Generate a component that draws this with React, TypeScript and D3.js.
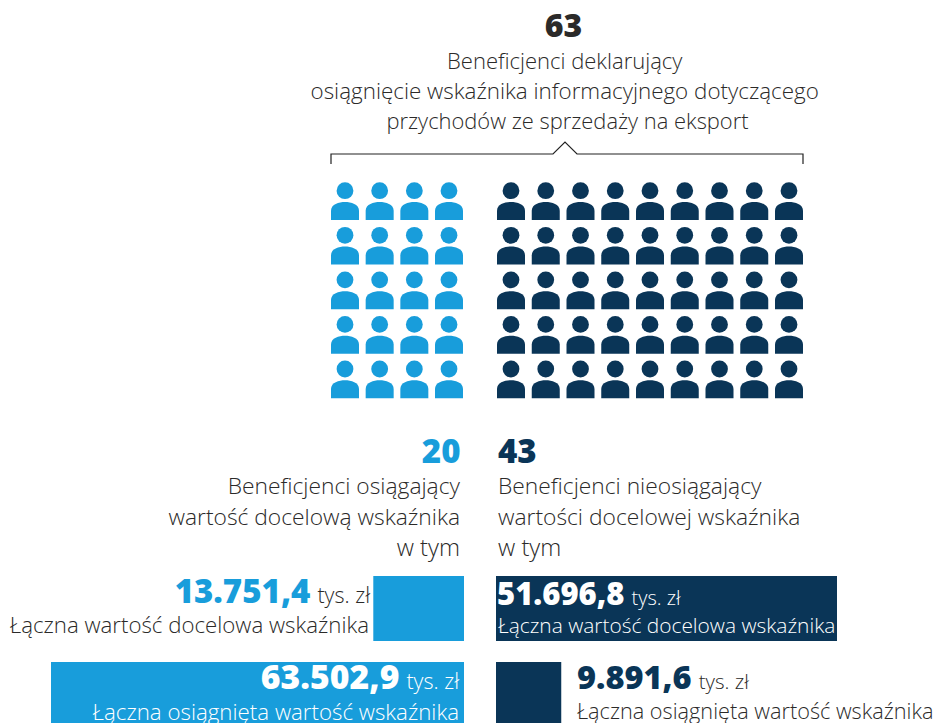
import React from 'react';
import * as d3 from 'd3';

const BLUE = '#189ddb';
const NAVY = '#0a3557';
const INK = '#2b2a29';
const FONT = '"Open Sans", "Noto Sans", sans-serif';

const total = '63';
const titleLines = [
  'Beneficjenci deklarujący',
  'osiągnięcie wskaźnika informacyjnego dotyczącego',
  'przychodów ze sprzedaży na eksport',
];
const titleSizes = [22, 22.4, 21.9];

// icon grids: drawn as in the source picture (4x5 and 9x5)
const iconRows = 5;
const leftCols = 4;
const rightCols = 9;

const leftCount = '20';
const leftLines = ['Beneficjenci osiągający', 'wartość docelową wskaźnika', 'w tym'];
const rightCount = '43';
const rightLines = ['Beneficjenci nieosiągający', 'wartości docelowej wskaźnika', 'w tym'];
const groupSizes = [22.8, 22.8, 23.8];

const targetLabel = 'Łączna wartość docelowa wskaźnika';
const actualLabel = 'Łączna osiągnięta wartość wskaźnika';
const unit = 'tys. zł';

const leftTarget = 13751.4;
const leftActual = 63502.9;
const rightTarget = 51696.8;
const rightActual = 9891.6;

const fmt = (v: number) => {
  const [a, b] = v.toFixed(1).split('.');
  return a.replace(/\B(?=(\d{3})+$)/g, '.') + ',' + b;
};

const barScale = d3.scaleLinear().domain([0, rightTarget, leftActual]).range([0, 341, 413]);
const rowScale = d3.scalePoint<number>().domain(d3.range(iconRows)).range([190.7, 369]);
const leftX = d3.scalePoint<number>().domain(d3.range(leftCols)).range([345, 449]);
const rightX = d3.scalePoint<number>().domain(d3.range(rightCols)).range([511, 789]);

const bracket = d3.line()([
  [331, 164], [331, 154], [553, 154], [565, 142], [577, 154], [803, 154], [803, 164],
]) as string;

const Person = ({ x, y, fill }: { x: number; y: number; fill: string }) => (
  <g transform={`translate(${x},${y})`} fill={fill}>
    <circle r={8.4} />
    <path d="M-14,29.3 V20 C-14,13.5 -6,11.3 0,11.3 C6,11.3 14,13.5 14,20 V29.3 Z" />
  </g>
);

const Value = ({ x, y, value, color, unitColor, anchor = 'start', size = 33, unitSize = 20.5 }: any) => (
  <text x={x} y={y} textAnchor={anchor} fontFamily={FONT}>
    <tspan fontSize={size} fontWeight={800} fill={color}>{fmt(value)}</tspan>
    <tspan fontSize={unitSize} fontWeight={300} fill={unitColor} dx={7}>{unit}</tspan>
  </text>
);

const Label = ({ x, y, text, fill = INK, anchor = 'start', size = 22.2 }: any) => (
  <text x={x} y={y} textAnchor={anchor} fontFamily={FONT} fontSize={size} fontWeight={300} fill={fill}>{text}</text>
);

export default function App() {
  return (
    <svg width={936} height={723} style={{ position: 'absolute', left: 0, top: 0, display: 'block' }}>
      <text x={563.5} y={37} textAnchor="middle" fontFamily={FONT} fontSize={32} fontWeight={800} fill={INK}>{total}</text>
      {titleLines.map((t, i) => (
        <Label key={t} x={i === 2 ? 567.5 : 564.7} y={68.5 + i * 30} text={t} anchor="middle" size={titleSizes[i]} />
      ))}
      <path d={bracket} fill="none" stroke="#222" strokeWidth={1.2} />

      {d3.range(iconRows).map(r => (
        <g key={r}>
          {d3.range(leftCols).map(c => <Person key={c} x={leftX(c)!} y={rowScale(r)!} fill={BLUE} />)}
          {d3.range(rightCols).map(c => <Person key={c} x={rightX(c)!} y={rowScale(r)!} fill={NAVY} />)}
        </g>
      ))}

      <text x={460.5} y={463} textAnchor="end" fontFamily={FONT} fontSize={33} fontWeight={800} fill={BLUE}>{leftCount}</text>
      {leftLines.map((t, i) => (
        <Label key={t} x={460} y={494 + i * 31} text={t} anchor="end" size={groupSizes[i]} />
      ))}
      <text x={498} y={463} fontFamily={FONT} fontSize={33} fontWeight={800} fill={NAVY}>{rightCount}</text>
      {rightLines.map((t, i) => (
        <Label key={t} x={498} y={494 + i * 31} text={t} size={groupSizes[i]} />
      ))}

      <rect x={464 - barScale(leftTarget)} y={576} width={barScale(leftTarget)} height={65} fill={BLUE} />
      <Value x={370} y={603} value={leftTarget} color={BLUE} unitColor={INK} anchor="end" unitSize={21.5} />
      <Label x={369} y={632.5} text={targetLabel} anchor="end" size={22.25} />

      <rect x={464 - barScale(leftActual)} y={662} width={barScale(leftActual)} height={61} fill={BLUE} />
      <Value x={459} y={689} value={leftActual} color="#fff" unitColor="#fff" anchor="end" size={33.7} unitSize={21.5} />
      <Label x={459} y={720} text={actualLabel} anchor="end" fill="#fff" size={22.3} />

      <rect x={496} y={576} width={barScale(rightTarget)} height={65} fill={NAVY} />
      <Value x={497} y={605} value={rightTarget} color="#fff" unitColor="#fff" size={31} unitSize={20} />
      <Label x={498} y={632.5} text={targetLabel} fill="#fff" size={20.9} />

      <rect x={496} y={662} width={barScale(rightActual)} height={61} fill={NAVY} />
      <Value x={577} y={689} value={rightActual} color={NAVY} unitColor={INK} size={32.5} />
      <Label x={577} y={719} text={actualLabel} size={21.7} />
    </svg>
  );
}
